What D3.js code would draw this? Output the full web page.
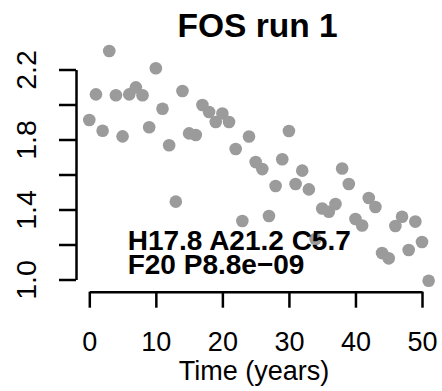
<!DOCTYPE html>
<html>
<head>
<meta charset="utf-8">
<script src="https://cdn.jsdelivr.net/npm/d3@7"></script>
<style>
  body { margin: 0; background: #fff; }
  svg { display: block; font-family: "Liberation Sans", Arial, Helvetica, sans-serif; }
</style>
</head>
<body>
<div id="chart"></div>
<script>
// data
const years = [0, 1, 2, 3, 4, 5, 6, 7, 8, 9, 10, 11, 12, 13, 14, 15, 16, 17, 18, 19,
    20, 21, 22, 23, 24, 25, 26, 27, 28, 29, 30, 31, 32, 33, 34, 35, 36, 37, 38, 39,
    40, 41, 42, 43, 44, 45, 46, 47, 48, 49, 50, 51];
const values = [1.911, 2.058, 1.850, 2.306, 2.053, 1.818, 2.058, 2.098, 2.053, 1.870,
    2.207, 1.976, 1.767, 1.445, 2.077, 1.835, 1.826, 1.997, 1.957, 1.900,
    1.949, 1.900, 1.746, 1.334, 1.817, 1.671, 1.631, 1.363, 1.534, 1.687,
    1.849, 1.546, 1.622, 1.515, 1.231, 1.406, 1.387, 1.431, 1.634, 1.546,
    1.346, 1.309, 1.466, 1.414, 1.151, 1.121, 1.306, 1.359, 1.169, 1.331,
    1.214, 0.993];
const xTicks = [0, 10, 20, 30, 40, 50];
const yTicks = [1.0, 1.2, 1.4, 1.6, 1.8, 2.0, 2.2];
const yLabels = [1.0, 1.4, 1.8, 2.2];
const title = "FOS run 1";
const xTitle = "Time (years)";
const statLines = ["H17.8 A21.2 C5.7", "F20 P8.8e\u221209"];

const width = 442, height = 391;

const svg = d3.select("#chart").append("svg")
    .attr("width", width)
    .attr("height", height);

const x = d3.scaleLinear().domain([0, 50]).range([89.3, 422]);
const y = d3.scaleLinear().domain([1.0, 2.2]).range([279.5, 69.5]);

// points
svg.append("g")
    .selectAll("circle")
    .data(years)
    .enter()
    .append("circle")
    .attr("cx", d => x(d))
    .attr("cy", (d, i) => y(values[i]))
    .attr("r", 6.3)
    .attr("fill", "#9b9b9b");

// y axis
const yAxis = svg.append("g")
    .attr("transform", "translate(76,0)")
    .call(d3.axisLeft(y).tickValues(yTicks).tickSize(17).tickSizeOuter(0)
        .tickFormat(d => yLabels.some(v => Math.abs(v - d) < 1e-9) ? d3.format(".1f")(d) : ""));
yAxis.selectAll("path, line").attr("stroke", "#000").attr("stroke-width", 2.5);
yAxis.selectAll("text")
    .attr("transform", "rotate(-90)")
    .attr("x", 0)
    .attr("y", -40)
    .attr("dy", 0)
    .attr("text-anchor", "middle")
    .attr("fill", "#000")
    .style("font-size", "28.5px");

// x axis
const xAxis = svg.append("g")
    .attr("transform", "translate(0,291.7)")
    .call(d3.axisBottom(x).tickValues(xTicks).tickSize(16).tickSizeOuter(0));
xAxis.selectAll("path, line").attr("stroke", "#000").attr("stroke-width", 2.5);
xAxis.selectAll("text")
    .attr("y", 59.5)
    .attr("dy", 0)
    .attr("fill", "#000")
    .style("font-size", "27px");

// titles
svg.append("text")
    .attr("x", 257.5)
    .attr("y", 37)
    .attr("text-anchor", "middle")
    .style("font-size", "33.5px")
    .style("font-weight", "bold")
    .text(title);

svg.append("text")
    .attr("x", 254)
    .attr("y", 379.5)
    .attr("text-anchor", "middle")
    .style("font-size", "27px")
    .text(xTitle);

// stats annotation
svg.append("g")
    .selectAll("text")
    .data(statLines)
    .enter()
    .append("text")
    .attr("x", 127.7)
    .attr("y", (d, i) => 250 + i * 24.3)
    .style("font-size", "28px")
    .style("font-weight", "bold")
    .text(d => d);
</script>
</body>
</html>
